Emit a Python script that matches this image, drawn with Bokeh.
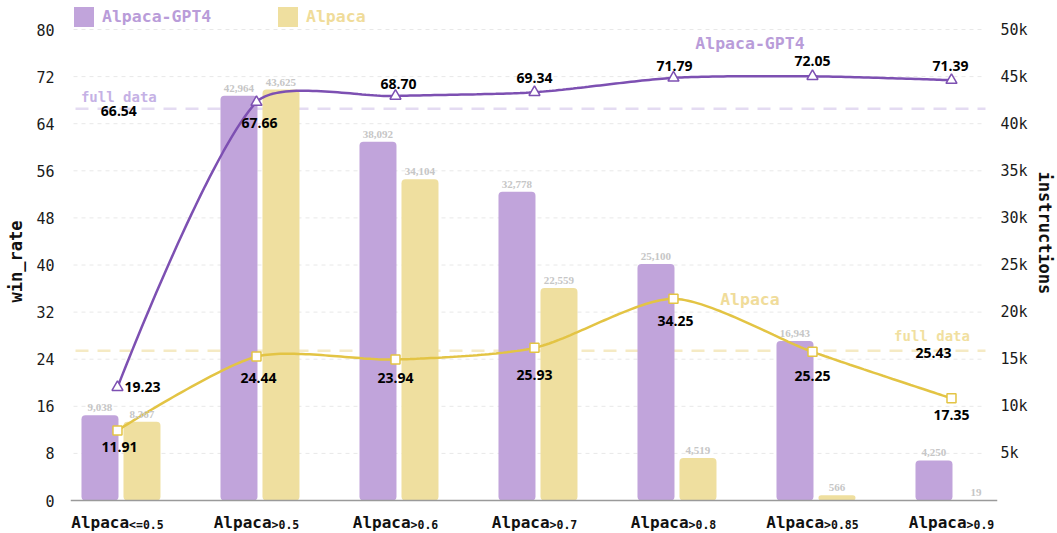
import math
import numpy as np
from bokeh.plotting import figure
from bokeh.models import Range1d, LinearAxis, FixedTicker, Label, Legend, LegendItem, Title
from bokeh.embed import file_html
from bokeh.resources import INLINE

# ---------------- data ----------------
cat_main = ["Alpaca"] * 7
cat_sub = ["<=0.5", ">0.5", ">0.6", ">0.7", ">0.8", ">0.85", ">0.9"]
gpt4_win = [19.23, 67.66, 68.70, 69.34, 71.79, 72.05, 71.39]
alpaca_win = [11.91, 24.44, 23.94, 25.93, 34.25, 25.25, 17.35]
gpt4_n = [9038, 42964, 38092, 32778, 25100, 16943, 4250]
alpaca_n = [8367, 43625, 34104, 22559, 4519, 566, 19]
full_gpt4 = 66.54
full_alpaca = 25.43
left_ticks = [0, 8, 16, 24, 32, 40, 48, 56, 64, 72, 80]
right_ticks = [5000, 10000, 15000, 20000, 25000, 30000, 35000, 40000, 45000, 50000]
right_labels = ["5k", "10k", "15k", "20k", "25k", "30k", "35k", "40k", "45k", "50k"]
series_names = ["Alpaca-GPT4", "Alpaca"]
left_title = "win_rate"
right_title = "instructions"

# ---------------- style ----------------
PURPLE_BAR = "#c1a4db"
YELLOW_BAR = "#efdf9f"
PURPLE_LINE = "#7d50b2"
YELLOW_LINE = "#e3c444"
PURPLE_TXT = "#b99cd9"
YELLOW_TXT = "#f0dc9a"
MONO = "DejaVu Sans Mono"
NUMF = "Open Sans"

W, H = 1057, 533
FRAME_L, FRAME_R, FRAME_T, FRAME_B = 70, 997, 3, 533
Y80_PX, Y0_PX = 29, 500                # pixel rows of the 80 and 0 ticks
SY = (Y0_PX - Y80_PX) / 80.0
Y1 = 80 + (Y80_PX - FRAME_T) / SY
Y0 = -(FRAME_B - Y0_PX) / SY
FW = FRAME_R - FRAME_L
X0, X1 = -0.338, 6.331
SX = FW / (X1 - X0)
R_MIN, R_MAX = 50000 * Y0 / 80, 50000 * Y1 / 80

xs = np.arange(len(cat_sub))
BW = 37 / SX
BOFF = 21 / SX
BSHIFT = 3.5 / SX

p = figure(width=W, height=H, x_range=Range1d(X0, X1), y_range=Range1d(Y0, Y1),
           output_backend="svg", toolbar_location=None,
           min_border_left=FRAME_L, min_border_right=W - FRAME_R,
           min_border_top=FRAME_T, min_border_bottom=H - FRAME_B)
p.extra_y_ranges = {"inst": Range1d(R_MIN, R_MAX)}
p.outline_line_color = None
p.xgrid.visible = False
p.ygrid.visible = False
p.xaxis.visible = False
p.background_fill_color = "white"
p.border_fill_color = "white"

# left axis
p.yaxis.ticker = FixedTicker(ticks=left_ticks)
p.yaxis.axis_line_color = None
p.yaxis.major_tick_line_color = None
p.yaxis.major_tick_out = 0
p.yaxis.major_tick_in = 0
p.yaxis.minor_tick_line_color = None
p.yaxis.minor_tick_out = 0
p.yaxis.major_label_text_font = MONO
p.yaxis.major_label_text_font_size = "15px"
p.yaxis.major_label_text_color = "#1a1a1a"
p.yaxis.major_label_standoff = 16

# right axis
ry = LinearAxis(y_range_name="inst", ticker=FixedTicker(ticks=right_ticks),
                major_label_overrides={t: l for t, l in zip(right_ticks, right_labels)})
ry.axis_line_color = None
ry.major_tick_line_color = None
ry.major_tick_out = 0
ry.major_tick_in = 0
ry.minor_tick_line_color = None
ry.minor_tick_out = 0
ry.major_label_text_font = MONO
ry.major_label_text_font_size = "15px"
ry.major_label_text_color = "#1a1a1a"
ry.major_label_standoff = 3
p.add_layout(ry, "right")

# axis titles
p.add_layout(Title(text=left_title, align="left", vertical_align="top", offset=231,
                   standoff=11, text_font=MONO, text_font_style="bold",
                   text_font_size="17px", text_color="#111111"), "left")
p.add_layout(Title(text=right_title, align="left", vertical_align="top", offset=168,
                   standoff=5, text_font=MONO, text_font_style="bold",
                   text_font_size="17px", text_color="#111111"), "right")

# grid lines (dashed)
gx0, gx1 = X0 + 3 / SX, X1 - 12 / SX
gt = [t for t in left_ticks if t > 0]
p.segment(x0=[gx0] * len(gt), x1=[gx1] * len(gt), y0=gt, y1=gt,
          line_color="#e8e8e8", line_width=1, line_dash="4 4")

# full data lines
p.segment(x0=[X0 + 5 / SX], x1=[gx1], y0=[full_gpt4], y1=[full_gpt4],
          line_color="#e4dbf2", line_width=2.5, line_dash="13 9")
p.segment(x0=[X0 + 5 / SX], x1=[gx1], y0=[full_alpaca], y1=[full_alpaca],
          line_color="#f5eac4", line_width=2.5, line_dash="13 9")

# bars
bar_g = p.vbar(x=xs - BOFF + BSHIFT, top=gpt4_n, width=BW, y_range_name="inst",
               fill_color=PURPLE_BAR, line_color=None, border_radius=4)
bar_a = p.vbar(x=xs + BOFF + BSHIFT, top=alpaca_n, width=BW, y_range_name="inst",
               fill_color=YELLOW_BAR, line_color=None, border_radius=4)

# category baseline
p.segment(x0=[X0], x1=[X1], y0=[0], y1=[0], line_color="#9a9a9a", line_width=1.5)


def smooth_curve(xv, yv, s=0.25, n=40):
    P = [(x * SX, y * SY) for x, y in zip(xv, yv)]
    N = len(P)
    cin = [None] * N
    cout = [None] * N
    for i in range(N):
        if i == 0 or i == N - 1:
            cin[i] = cout[i] = P[i]
            continue
        (px, py), (x, y), (nx, ny) = P[i - 1], P[i], P[i + 1]
        vx, vy = nx - px, ny - py
        d0 = math.hypot(x - px, y - py)
        d1 = math.hypot(nx - x, ny - y)
        r = d1 / (d0 + d1)
        cin[i] = (x - vx * s * (1 - r), y - vy * s * (1 - r))
        cout[i] = (x + vx * s * r, y + vy * s * r)
    ox, oy = [], []
    for i in range(N - 1):
        p0, p1, p2, p3 = P[i], cout[i], cin[i + 1], P[i + 1]
        t = np.linspace(0, 1, n, endpoint=(i == N - 2))
        a = (1 - t) ** 3
        b = 3 * (1 - t) ** 2 * t
        c = 3 * (1 - t) * t ** 2
        d = t ** 3
        ox.extend(a * p0[0] + b * p1[0] + c * p2[0] + d * p3[0])
        oy.extend(a * p0[1] + b * p1[1] + c * p2[1] + d * p3[1])
    return np.array(ox) / SX, np.array(oy) / SY


cx, cy = smooth_curve(xs, gpt4_win)
p.line(cx, cy, line_color=PURPLE_LINE, line_width=2.5)
cx, cy = smooth_curve(xs, alpaca_win)
p.line(cx, cy, line_color=YELLOW_LINE, line_width=2.5)
p.scatter(xs, gpt4_win, marker="triangle", size=11, fill_color="white",
          line_color=PURPLE_LINE, line_width=1.5)
p.scatter(xs, alpaca_win, marker="square", size=9, fill_color="white",
          line_color=YELLOW_LINE, line_width=1.5)

# bar value labels
for i in range(len(xs)):
    for xv, v in ((xs[i] - BOFF + BSHIFT, gpt4_n[i]), (xs[i] + BOFF + BSHIFT, alpaca_n[i])):
        p.add_layout(Label(x=xv, y=v, y_range_name="inst", text=f"{v:,}",
                           text_font="Liberation Serif", text_font_style="bold",
                           text_font_size="11px", text_color="#c6c6c6",
                           text_align="center", text_baseline="bottom", y_offset=4))

# line value labels (screen offsets)
g_off = [(25, 0), (3, -21), (3, 12), (0, 14), (1, 12), (0, 15), (-1, 14)]
a_off = [(2, -17), (2, -21), (0, -18), (0, -27), (2, -22), (0, -24), (0, -17)]
for i in range(len(xs)):
    for v, (dx, dy) in ((gpt4_win[i], g_off[i]), (alpaca_win[i], a_off[i])):
        p.add_layout(Label(x=xs[i], y=v, text=f"{v:.2f}", text_font=NUMF,
                           text_font_style="bold", text_font_size="14px",
                           text_color="#000000", text_align="center",
                           text_baseline="middle", x_offset=dx, y_offset=dy))

# full data labels
p.add_layout(Label(x=0.01, y=full_gpt4, text="full data", text_font=MONO,
                   text_font_style="bold", text_font_size="14px", text_color="#c5b1e5",
                   text_align="center", text_baseline="middle", y_offset=12))
p.add_layout(Label(x=0.01, y=full_gpt4, text=f"{full_gpt4:.2f}", text_font=NUMF,
                   text_font_style="bold", text_font_size="14px", text_color="#000000",
                   text_align="center", text_baseline="middle", y_offset=-2))
p.add_layout(Label(x=5.86, y=full_alpaca, text="full data", text_font=MONO,
                   text_font_style="bold", text_font_size="14px", text_color="#f1df9f",
                   text_align="center", text_baseline="middle", y_offset=15))
p.add_layout(Label(x=5.87, y=full_alpaca, text=f"{full_alpaca:.2f}", text_font=NUMF,
                   text_font_style="bold", text_font_size="14px", text_color="#000000",
                   text_align="center", text_baseline="middle", y_offset=-2))

# series name labels
p.add_layout(Label(x=4.55, y=77.6, text=series_names[0], text_font=MONO,
                   text_font_style="bold", text_font_size="16.5px", text_color=PURPLE_TXT,
                   text_align="center", text_baseline="middle"))
p.add_layout(Label(x=4.55, y=34.1, text=series_names[1], text_font=MONO,
                   text_font_style="bold", text_font_size="16.5px", text_color=YELLOW_TXT,
                   text_align="center", text_baseline="middle"))

# category labels with subscripts
MAIN_FS, SUB_FS = 16, 11.5
for i in range(len(xs)):
    mw = len(cat_main[i]) * 0.602 * MAIN_FS
    sw = len(cat_sub[i]) * 0.602 * SUB_FS
    tot = mw + sw
    p.add_layout(Label(x=xs[i], y=0, text=cat_main[i], text_font=MONO,
                       text_font_style="bold", text_font_size=f"{MAIN_FS}px",
                       text_color="#111111", text_align="left", text_baseline="alphabetic",
                       x_offset=-tot / 2, y_offset=-22))
    p.add_layout(Label(x=xs[i], y=0, text=cat_sub[i], text_font=MONO,
                       text_font_style="bold", text_font_size=f"{SUB_FS}px",
                       text_color="#111111", text_align="left", text_baseline="alphabetic",
                       x_offset=-tot / 2 + mw, y_offset=-24))

# legends (inside the extended frame top)
for rend, name, col, xloc in ((bar_g, series_names[0], PURPLE_TXT, 1),
                              (bar_a, series_names[1], YELLOW_TXT, 205)):
    lg = Legend(items=[LegendItem(label=name, renderers=[rend])],
                location=(xloc, FRAME_B - 29),
                orientation="horizontal", glyph_width=25, glyph_height=25,
                label_text_font=MONO, label_text_font_style="bold",
                label_text_font_size="16.5px", label_text_color=col,
                label_standoff=6, padding=0, margin=0, spacing=0,
                border_line_alpha=0, background_fill_alpha=0)
    p.add_layout(lg)

open("out.html", "w").write(file_html(p, INLINE))
